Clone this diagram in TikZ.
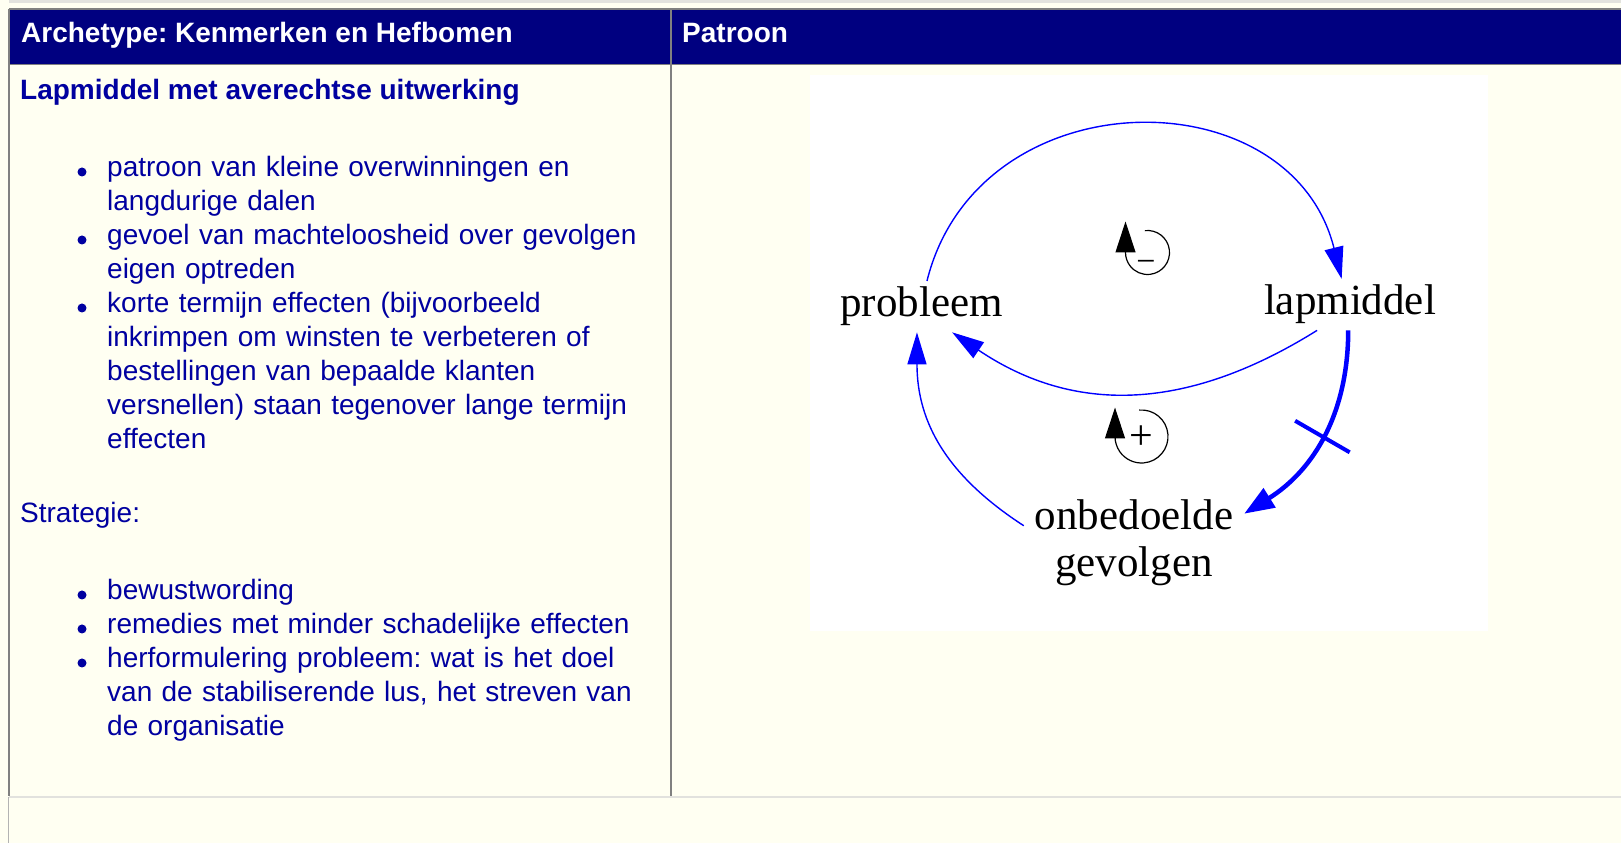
\documentclass[tikz,border=0pt]{standalone}
\usepackage{fontspec}
\setmainfont{Liberation Serif}
\setsansfont{Liberation Sans}
\usetikzlibrary{arrows.meta}
\frenchspacing
\definecolor{ivory}{RGB}{255,255,242}
\definecolor{hdrblue}{RGB}{0,0,128}
\definecolor{txtblue}{RGB}{0,0,160}
\definecolor{lnkblue}{RGB}{0,0,255}
\definecolor{rulegray}{RGB}{128,128,128}
\definecolor{lightrule}{RGB}{226,226,222}

\begin{document}
\begin{tikzpicture}[x=1pt,y=1pt,
  every node/.style={inner sep=0pt},
  hdr/.style={anchor=base west,text=white,font=\sffamily\bfseries\fontsize{28}{34}\selectfont},
  ttl/.style={anchor=base west,text=txtblue,font=\sffamily\bfseries\fontsize{28}{34}\selectfont},
  lst/.style={anchor=base west,text=txtblue,align=left,text width=560pt,font=\sffamily\fontsize{28}{34}\selectfont},
  vbl/.style={anchor=base,font=\fontsize{43}{47}\selectfont,inner xsep=10pt,inner ysep=6pt},
  lnk/.style={draw=lnkblue,line width=1.4pt,-{Triangle[length=32pt,width=19pt]}},
  lnkthick/.style={draw=lnkblue,line width=4.5pt,-{Triangle[length=30pt,width=22pt]}},
  lp/.style={draw=black,line width=1.2pt,-{Triangle[length=31pt,width=20pt]}},
  sgn/.style={font=\fontsize{34}{34}\selectfont}]
\useasboundingbox (0,0) rectangle (1621,843);
\fill[ivory] (0,0) rectangle (1621,843);
% table
\fill[hdrblue] (10,833) rectangle (670,779);
\fill[hdrblue] (672,833) rectangle (1625,779);
\draw[lightrule,line width=3pt] (9,841) -- (1625,841);
\draw[rulegray,line width=1.5pt] (9,834) -- (1625,834);
\draw[rulegray,line width=1.5pt] (9,778.5) -- (1625,778.5);
\draw[rulegray,line width=2pt] (9,834) -- (9,47);
\draw[rulegray,line width=2pt] (671,834) -- (671,47);
\draw[lightrule,line width=2.5pt] (9,46) -- (1625,46);
\draw[rulegray!60,line width=1pt] (8.5,46) -- (8.5,0);
\fill[white] (810,768) rectangle (1488,212);

% left column
\node[hdr] (h1) at (21,800) {Archetype: Kenmerken en Hefbomen};
\node[hdr] (h2) at (682,800) {Patroon};
\node[ttl] (t1) at (20,743) {Lapmiddel met averechtse uitwerking};
\node[lst] (k1) at (107,666) {patroon van kleine overwinningen en\\langdurige dalen};
\node[lst] (k2) at (107,598) {gevoel van machteloosheid over gevolgen\\eigen optreden};
\node[lst] (k3) at (107,530) {korte termijn effecten (bijvoorbeeld\\inkrimpen om winsten te verbeteren of\\bestellingen van bepaalde klanten\\versnellen) staan tegenover lange termijn\\effecten};
\node[ttl,font=\sffamily\fontsize{28}{34}\selectfont] (t2) at (20,320) {Strategie:};
\node[lst] (s1) at (107,243) {bewustwording};
\node[lst] (s2) at (107,209) {remedies met minder schadelijke effecten};
\node[lst] (s3) at (107,175) {herformulering probleem: wat is het doel\\van de stabiliserende lus, het streven van\\de organisatie};
\foreach \k in {k1,k2,k3,s1,s2,s3}
  \fill[txtblue] ([shift={(-25,5)}]\k.base west) circle (4.5);

% pattern
\node[vbl] (prob) at (921.5,526) {probleem};
\node[vbl] (lap) at (1350,528) {lapmiddel};
\node[vbl,align=center,text width=200pt] (gev) at (1134,313) {onbedoelde\\gevolgen};
\draw[lnk] (prob.78) to[out=76,in=104,looseness=1.3] (lap.108);
\draw[lnk] (lap.-142) to[out=212,in=-34,looseness=1.05] (prob.-40);
\draw[lnk] (gev.171) to[out=147,in=-90,looseness=1.05] (prob.-100);
\draw[lnkthick] (lap.-94) to[out=-90,in=32] coordinate[pos=0.5] (dly) (gev.15);
\draw[lnkblue,line width=4pt] ([shift={(150:31.5)}]dly) -- ([shift={(-30:31.5)}]dly);
% loop signs
\draw[lp] (1147.5,590.5) ++(97:22) arc[start angle=97,end angle=-180,radius=22] -- ++(0,31);
\node[sgn] (sgm) at (1146,577) {−};
\draw[lp] (1141.5,406.5) ++(95:26.5) arc[start angle=95,end angle=-180,radius=26.5] -- ++(0,29);
\node[sgn,font=\fontsize{42}{42}\selectfont] (sgp) at (1141,405) {+};
\end{tikzpicture}
\end{document}
